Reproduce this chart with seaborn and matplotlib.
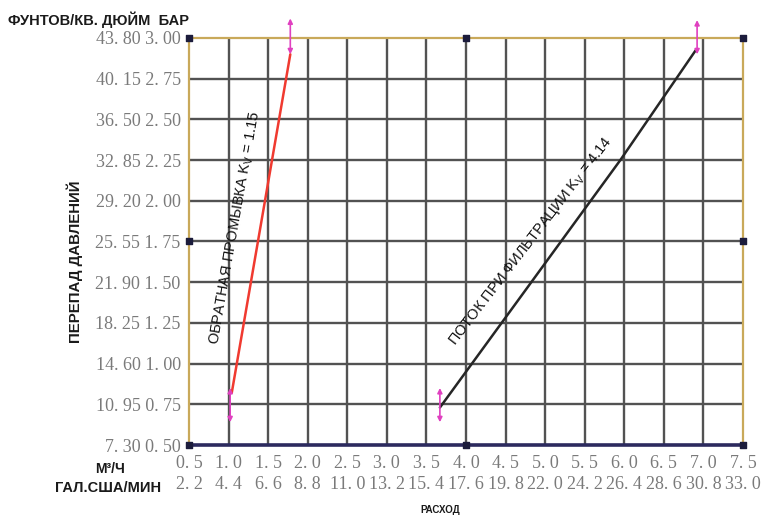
import numpy as np
import pandas as pd
import seaborn as sns
import matplotlib.pyplot as plt

# axis values
flow_m3h = [0.5, 1.0, 1.5, 2.0, 2.5, 3.0, 3.5, 4.0, 4.5, 5.0, 5.5, 6.0, 6.5, 7.0, 7.5]
flow_gpm = [2.2, 4.4, 6.6, 8.8, 11.0, 13.2, 15.4, 17.6, 19.8, 22.0, 24.2, 26.4, 28.6, 30.8, 33.0]
dp_bar = [0.50, 0.75, 1.00, 1.25, 1.50, 1.75, 2.00, 2.25, 2.50, 2.75, 3.00]
dp_psi = [7.30, 10.95, 14.60, 18.25, 21.90, 25.55, 29.20, 32.85, 36.50, 40.15, 43.80]

# curves
backwash_q = [1.04, 1.25, 1.46, 1.62, 1.78]
backwash_dp = [0.82, 1.41, 2.00, 2.45, 2.90]
filter_q = [3.67, 4.45, 5.20, 5.95, 6.91]
filter_dp = [0.73, 1.25, 1.75, 2.25, 2.93]

# endpoint arrows (x, y from, y to)
arrow_x = [1.02, 1.78, 3.67, 6.92]
arrow_lo = [0.64, 2.90, 0.64, 2.90]
arrow_hi = [0.85, 3.12, 0.85, 3.11]

sns.set_style("white")
plt.rcParams['font.family'] = ['Liberation Sans', 'DejaVu Sans']

fig = plt.figure(figsize=(7.63, 5.16), dpi=100)
ax = fig.add_axes([189 / 763, 1 - 445 / 516, (743 - 189) / 763, (445 - 38) / 516])

ax.set_xlim(0.5, 7.5)
ax.set_ylim(0.5, 3.0)

for v in flow_m3h[1:-1]:
    ax.axvline(v, color='#525252', lw=1.7, zorder=1)
for v in dp_bar[1:-1]:
    ax.axhline(v, color='#525252', lw=1.7, zorder=1)

df_b = pd.DataFrame({'q': backwash_q, 'dp': backwash_dp})
df_f = pd.DataFrame({'q': filter_q, 'dp': filter_dp})
sns.lineplot(data=df_b, x='q', y='dp', color='#f03a30', lw=1.8, sort=False,
             estimator=None, ax=ax, zorder=3)
sns.lineplot(data=df_f, x='q', y='dp', color='#262626', lw=1.8, sort=False,
             estimator=None, ax=ax, zorder=3)

for x, lo, hi in zip(arrow_x, arrow_lo, arrow_hi):
    ax.annotate('', xy=(x, hi), xytext=(x, lo), annotation_clip=False,
                arrowprops=dict(arrowstyle='<|-|>', color='#e040c0', lw=1.2,
                                mutation_scale=7, shrinkA=0, shrinkB=0))

# frame
for side in ['left', 'top', 'right']:
    ax.spines[side].set_color('#c9a95a')
    ax.spines[side].set_linewidth(1.6)
ax.spines['bottom'].set_color('#2c2a5e')
ax.spines['bottom'].set_linewidth(2.6)

corner_x = [0.5, 4.0, 7.5, 7.5, 7.5, 4.0, 0.5, 0.5]
corner_y = [3.0, 3.0, 3.0, 1.75, 0.5, 0.5, 0.5, 1.75]
ax.scatter(corner_x, corner_y, marker='s', s=22, color='#1c1c3c',
           clip_on=False, zorder=5)

# ticks
fmt = lambda v, d: f"{v:.{d}f}".replace('.', '. ')
ax.set_yticks(dp_bar, labels=[f"{fmt(p, 2)} {fmt(b, 2)}" for p, b in zip(dp_psi, dp_bar)])
ax.set_xticks(flow_m3h, labels=[f"{fmt(q, 1)}\n{fmt(g, 1)}" for q, g in zip(flow_m3h, flow_gpm)])
ax.tick_params(length=0, colors='#7a7a7a', labelsize=13)
ax.tick_params(axis='y', pad=6)
ax.tick_params(axis='x', pad=7)
for t in ax.get_xticklabels() + ax.get_yticklabels():
    t.set_family('Liberation Serif')
    t.set_color('#7a7a7a')
for t in ax.get_xticklabels():
    t.set_linespacing(1.3)

# text
fig.text(8 / 763, 1 - 20 / 516, 'ФУНТОВ/КВ. ДЮЙМ  БАР', fontsize=10.5,
         fontweight='bold', color='#1a1a1a', ha='left', va='center')
fig.text(110 / 763, 1 - 469 / 516, 'M³/Ч', fontsize=10, fontweight='bold',
         color='#1a1a1a', ha='center', va='center')
fig.text(108 / 763, 1 - 488 / 516, 'ГАЛ.США/МИН', fontsize=10.5, fontweight='bold',
         color='#1a1a1a', ha='center', va='center')
fig.text(440 / 763, 1 - 510 / 516, 'РАСХОД', fontsize=7, fontweight='bold',
         color='#1a1a1a', ha='center', va='center')
fig.text(75 / 763, 1 - 262 / 516, 'ПЕРЕПАД ДАВЛЕНИЙ', fontsize=10.8, fontweight='bold',
         color='#1a1a1a', ha='center', va='center', rotation=90)

fig.text(235 / 763, 1 - 228 / 516, 'ОБРАТНАЯ ПРОМЫВКА K$_\\mathregular{V}$ = 1.15',
         fontsize=10.5, color='#111111', ha='center', va='center',
         rotation=80, rotation_mode='anchor')
fig.text(531 / 763, 1 - 241 / 516, 'ПОТОК ПРИ ФИЛЬТРАЦИИ K$_\\mathregular{V}$ = 4.14',
         fontsize=10.5, color='#111111', ha='center', va='center',
         rotation=52.5, rotation_mode='anchor')

ax.set_xlabel('')
ax.set_ylabel('')
fig.savefig('out.png', dpi=100)
